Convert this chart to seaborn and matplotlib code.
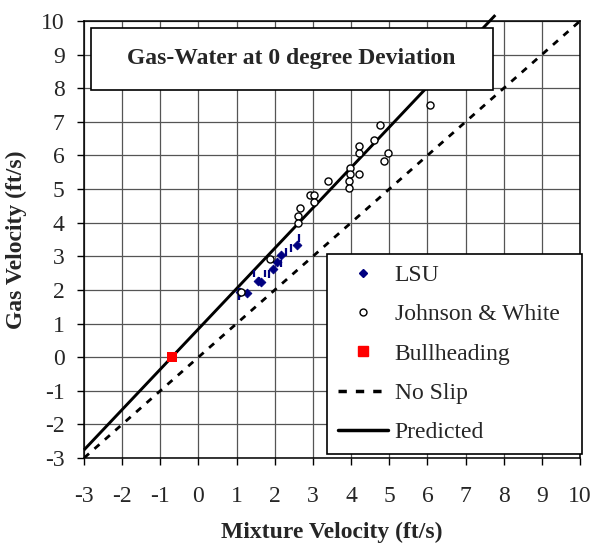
"""Gas velocity vs mixture velocity, gas-water at 0 degree deviation."""

import matplotlib
matplotlib.use("Agg")
import matplotlib.pyplot as plt
import seaborn as sns
from matplotlib.lines import Line2D
from matplotlib.patches import Rectangle

# LSU measurements (mixture velocity, gas velocity), ft/s
lsu_vm = [1.09, 1.28, 1.57, 1.65, 1.96, 2.06, 2.15, 2.58]
lsu_vg = [1.93, 1.91, 2.27, 2.23, 2.63, 2.82, 3.04, 3.33]
# LSU uncertainty bars: centre and half-height
lsu_err_vm = [1.05, 1.46, 1.58, 1.74, 1.85, 2.16, 2.30, 2.43, 2.63]
lsu_err_vg = [1.88, 2.49, 2.26, 2.48, 2.46, 2.79, 3.12, 3.25, 3.55]
lsu_err_half = [0.17, 0.11, 0.12, 0.11, 0.12, 0.11, 0.12, 0.12, 0.12]

# Johnson & White data
jw_vm = [6.07, 4.77, 4.61, 4.22, 4.22, 4.96, 4.86, 3.96, 3.97, 4.21, 3.39,
         3.94, 3.94, 2.92, 3.04, 3.03, 2.65, 2.60, 2.60, 1.87, 1.12]
jw_vg = [7.50, 6.90, 6.46, 6.28, 6.08, 6.06, 5.83, 5.64, 5.44, 5.44, 5.25,
         5.23, 5.02, 4.82, 4.82, 4.62, 4.43, 4.20, 4.00, 2.92, 1.93]

# Bullheading point
bull_vm = [-0.70]
bull_vg = [0.0]

# Drift-flux prediction vg = C0 * vm + vd
C0 = 1.2
VD = 0.84
pred_vm = [-3.0, 7.78]
# No slip: vg = vm
noslip_vm = [-3.0, 10.0]

NAVY = "#000080"
RED = "#FF0000"
FS = 17

sns.set_style("ticks")
plt.rcParams["font.family"] = ["Liberation Serif", "DejaVu Serif"]
plt.rcParams["font.size"] = FS
plt.rcParams["axes.unicode_minus"] = False

fig = plt.figure(figsize=(5.93, 5.5), dpi=100)
ax = fig.add_axes([0.1417, 0.1673, 0.8364, 0.7945])

ax.plot(noslip_vm, noslip_vm, color="black", lw=2.0, dashes=(2.4, 2.6), zorder=3)
ax.plot(pred_vm, [C0 * v + VD for v in pred_vm], color="black", lw=2.1,
        zorder=3, clip_on=False, solid_capstyle="butt")

ax.errorbar(lsu_err_vm, lsu_err_vg, yerr=lsu_err_half, fmt="none",
            ecolor=NAVY, elinewidth=1.6, capsize=0, zorder=4)
sns.scatterplot(x=lsu_vm, y=lsu_vg, marker="D", color=NAVY, edgecolor=NAVY,
                s=20, linewidth=0.6, ax=ax, zorder=5, legend=False)
sns.scatterplot(x=jw_vm, y=jw_vg, marker="o", facecolor="white", edgecolor="black",
                s=26, linewidth=1.0, ax=ax, zorder=5, legend=False)
sns.scatterplot(x=bull_vm, y=bull_vg, marker="s", color=RED, edgecolor=RED,
                s=52, linewidth=0, ax=ax, zorder=6, legend=False)

ax.set_xlim(-3, 10)
ax.set_ylim(-3, 10)
ax.set_xticks(range(-3, 11))
ax.set_yticks(range(-3, 11))
ax.grid(True, color="#555555", lw=0.9, zorder=0)
ax.set_axisbelow(True)
for s in ax.spines.values():
    s.set_color("black")
    s.set_linewidth(1.1)
ax.tick_params(axis="both", direction="out", length=5, width=1, color="black",
               labelsize=FS)
ax.tick_params(axis="x", pad=15)
ax.tick_params(axis="y", pad=9)

ax.set_xlabel("Mixture Velocity (ft/s)", fontsize=FS, fontweight="bold")
ax.set_ylabel("Gas Velocity (ft/s)", fontsize=FS, fontweight="bold")
ax.xaxis.set_label_coords(0.5, -0.146)
ax.yaxis.set_label_coords(-0.115, 0.5)

# Boxed title inside the plot
ax.add_patch(Rectangle((0.0133, 0.842), 0.8103, 0.143, transform=ax.transAxes,
                       facecolor="white", edgecolor="black", lw=1.2, zorder=7))
ax.text(0.418, 0.9135, "Gas-Water at 0 degree Deviation", transform=ax.transAxes,
        ha="center", va="center", fontsize=FS, fontweight="bold", zorder=8)

handles = [
    Line2D([], [], ls="none", marker="D", color=NAVY, ms=4.5),
    Line2D([], [], ls="none", marker="o", mfc="white", mec="black", ms=5, mew=1),
    Line2D([], [], ls="none", marker="s", color=RED, ms=7.5),
    Line2D([], [], color="black", lw=2.5, dashes=(2.4, 2.6)),
    Line2D([], [], color="black", lw=2.5),
]
labels = ["LSU", "Johnson & White", "Bullheading", "No Slip", "Predicted"]
leg = ax.legend(handles, labels, loc="lower left", mode="expand",
                bbox_to_anchor=(0.49, 0.009, 0.514, 0.46),
                borderaxespad=0, fontsize=FS, frameon=True, fancybox=False,
                framealpha=1, edgecolor="black", borderpad=0.46,
                labelspacing=0.75, handlelength=2.1, handletextpad=0.3)
leg.get_frame().set_linewidth(1.2)
leg.set_zorder(9)

fig.savefig("out.png", dpi=100)
